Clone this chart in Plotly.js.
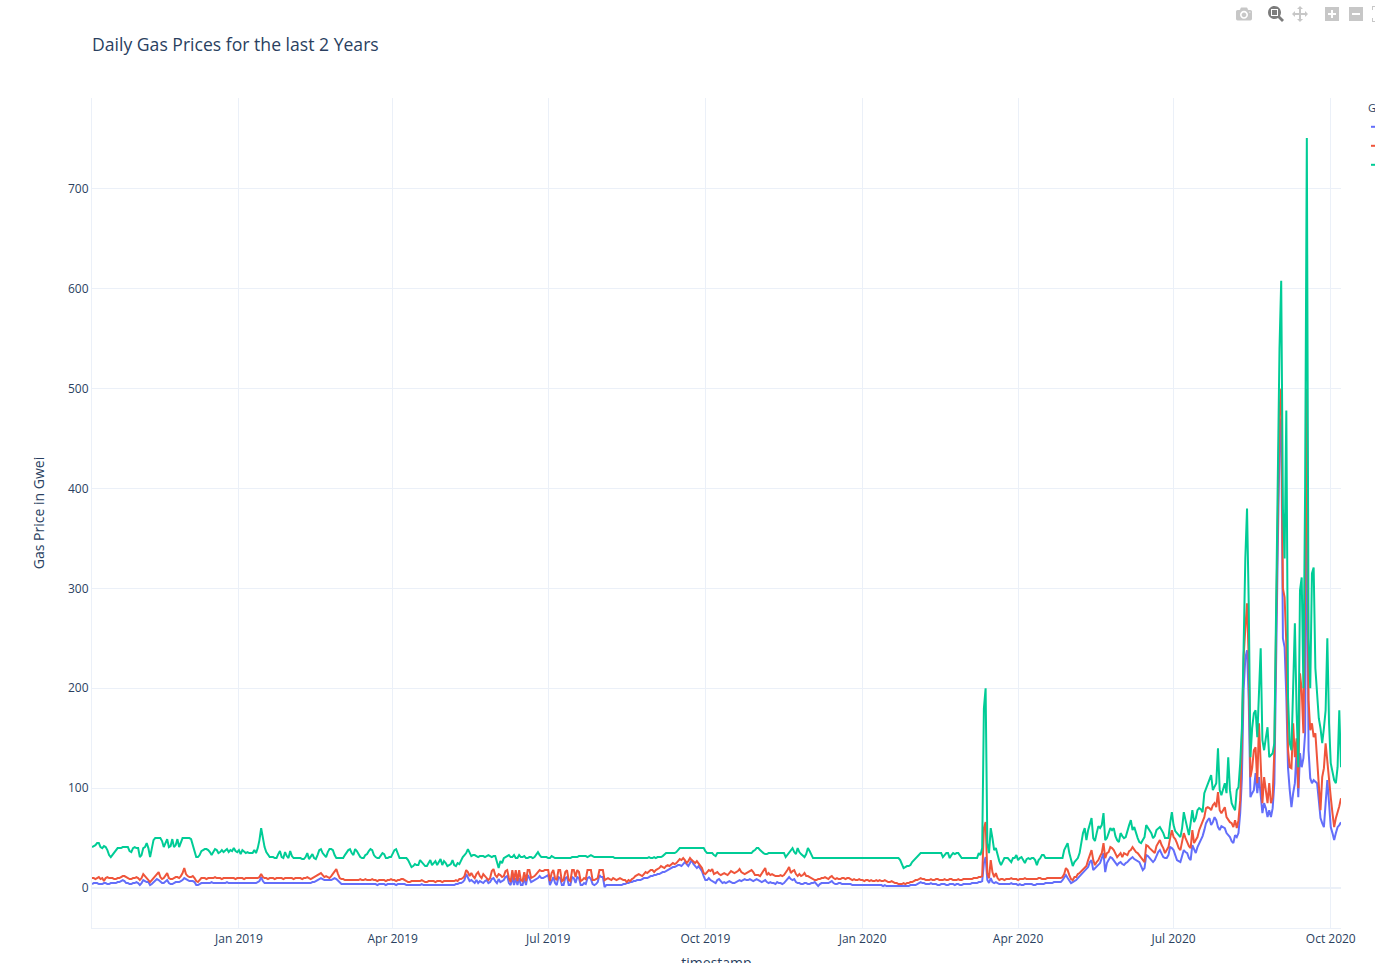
<!DOCTYPE html>
<html>
<head>
<meta charset="utf-8">
<script src="https://cdn.plot.ly/plotly-3.0.1.min.js"></script>
<style>
html, body { margin: 0; padding: 0; background: #ffffff; overflow: hidden; }
#clip { width: 1375px; height: 963px; overflow: hidden; position: relative; background: #ffffff; }
#chart { width: 1450px; height: 1000px; }
</style>
</head>
<body>
<div id="clip"><div id="chart"></div></div>
<script>
// ---- data (daily values, first day 2018-10-07) ----
const startDate = '2018-10-07';
const endDate = '2020-10-07';
const chartTitle = 'Daily Gas Prices for the last 2 Years';
const xTitle = 'timestamp';
const yTitle = 'Gas Price in Gwei';
const legendTitle = 'Gas Price Type';
const seriesNames = ['safeLow', 'average', 'fast'];

const safeLowPrices = [
4,5,5,5,4,4,4,5,5,4,
4,5,5,5,5,6,6,7,8,7,
5,5,4,4,5,5,6,5,3,5,
8,7,6,6,3,4,6,7,9,8,
6,5,5,7,8,5,4,4,5,6,
6,6,7,8,10,9,8,7,7,7,
6,3,3,4,5,5,5,5,5,5,
6,5,5,5,5,5,5,5,5,6,
5,5,5,5,5,5,5,5,5,5,
5,5,5,5,5,5,5,6,7,11,
7,5,5,5,5,5,5,5,5,5,
5,5,5,5,5,5,5,5,5,5,
5,5,5,5,5,5,5,5,5,6,
6,7,8,9,10,9,8,8,8,8,
8,9,10,9,7,5,4,4,4,4,
4,4,4,4,4,4,4,4,4,4,
4,4,4,4,4,4,4,3,4,4,
4,4,3,4,4,4,4,4,3,4,
4,4,4,4,3,3,3,3,3,3,
3,3,3,4,3,3,3,3,3,3,
3,3,3,3,3,3,3,3,3,3,
3,3,3,4,4,5,5,6,8,14,
10,7,8,6,5,8,5,7,6,5,
7,8,5,6,9,10,7,5,9,6,
7,8,11,12,5,3,11,3,10,3,
10,3,3,10,3,13,10,6,7,8,
9,10,12,10,10,11,12,13,3,8,
11,5,3,11,10,3,3,10,11,3,
3,11,10,5,11,10,3,3,5,4,
10,11,9,4,3,4,6,13,11,11,
1,3,3,3,3,3,3,3,3,3,
3,4,4,5,5,6,6,7,7,8,
8,8,9,10,10,10,11,12,12,13,
13,14,14,15,16,16,17,18,19,20,
21,21,22,23,23,22,24,26,24,22,
25,28,24,22,20,22,20,17,12,8,
8,10,8,7,6,5,8,9,7,5,
6,5,6,7,6,5,5,6,7,8,
7,8,9,8,8,9,8,7,8,9,
8,7,6,7,8,6,5,6,5,5,
4,6,5,5,4,5,7,10,11,9,
8,9,6,5,5,4,4,5,5,4,
4,5,5,6,4,2,4,5,5,5,
5,5,6,7,5,4,4,5,5,4,
4,4,4,4,4,3,3,3,3,3,
3,3,3,3,3,3,3,3,3,3,
3,3,3,2,3,2,2,2,2,2,
2,2,2,2,2,2,2,2,2,3,
3,3,3,4,5,6,5,5,4,4,
4,5,4,4,4,3,3,4,4,4,
3,3,4,4,4,3,4,4,3,3,
4,4,4,4,4,5,5,5,5,6,
6,7,25,31,8,5,10,6,5,6,
5,4,4,4,4,4,4,4,5,4,
4,4,3,4,3,3,4,4,4,4,
4,3,3,4,4,4,4,4,5,5,
5,5,5,6,6,6,6,6,8,10,
13,10,7,5,6,7,8,10,12,14,
15,17,19,21,26,28,18,20,22,24,
25,30,35,16,25,28,31,30,28,25,
23,25,26,24,23,25,26,28,30,31,
29,28,27,26,22,18,20,33,32,30,
28,26,28,33,36,38,34,31,30,30,
33,41,40,38,33,28,27,26,32,38,
36,35,30,28,43,38,35,41,45,48,
52,58,65,68,70,63,66,71,68,61,
58,62,61,60,55,53,51,47,45,53,
51,55,75,110,198,230,238,188,91,95,
98,115,95,111,90,75,85,80,71,78,
71,80,105,238,340,440,470,250,241,191,
120,98,81,95,105,138,91,135,121,130,
155,420,138,110,105,108,106,105,88,70,
65,61,85,108,85,61,55,48,55,61,
63,66
];

const averagePrices = [
10,10,9,10,11,9,10,7,10,11,
10,10,10,9,9,10,10,11,12,12,
11,10,9,9,10,10,11,10,8,10,
14,12,10,9,6,8,10,12,14,16,
11,9,10,13,15,10,9,9,10,11,
11,10,12,15,20,14,12,11,11,12,
10,7,6,8,10,10,10,9,10,10,
10,10,11,10,10,10,9,10,10,10,
10,10,10,10,9,10,10,10,10,9,
10,10,10,10,10,10,10,10,11,14,
11,10,10,9,10,10,10,9,10,10,
10,10,9,10,10,10,10,10,9,10,
10,10,10,9,10,10,11,10,9,10,
11,12,13,14,15,13,11,12,11,10,
12,14,16,19,14,10,9,9,8,8,
8,8,8,8,8,8,8,9,8,8,
9,8,8,8,9,8,8,7,8,8,
8,8,7,8,8,9,8,8,7,8,
8,9,9,8,7,6,6,7,7,7,
7,7,7,8,7,6,6,7,7,7,
7,6,7,7,7,6,7,7,7,7,
7,7,7,8,7,9,9,10,12,18,
16,12,15,12,10,14,16,12,10,14,
12,10,8,10,17,19,13,11,14,13,
11,12,17,18,10,6,18,8,18,7,
18,8,7,16,7,18,18,10,11,12,
14,16,18,17,17,18,18,18,7,15,
18,10,8,18,18,7,8,16,18,8,
7,18,18,11,18,16,7,8,10,9,
18,18,18,8,8,9,10,18,18,18,
8,9,10,9,8,10,9,8,9,10,
9,8,8,6,8,7,9,10,12,13,
14,13,12,14,16,15,17,18,18,16,
18,19,20,22,21,20,22,23,22,24,
25,24,25,27,29,28,30,28,25,27,
30,28,26,25,27,25,22,20,15,14,
16,18,17,19,14,15,16,14,13,14,
15,14,13,15,17,16,15,16,17,19,
16,15,14,15,16,17,18,16,13,13,
13,12,15,18,20,13,15,13,14,13,
12,12,12,13,12,13,15,18,21,15,
17,18,14,12,14,12,13,15,12,12,
11,10,9,8,8,9,9,10,10,11,
10,9,11,12,10,9,10,9,9,10,
10,9,10,10,9,8,9,8,8,9,
8,8,7,8,8,7,8,7,7,8,
7,8,7,7,8,7,6,6,7,6,
5,5,4,4,4,5,4,5,5,6,
6,7,8,8,9,10,9,9,8,8,
8,9,8,8,9,9,8,8,8,9,
8,8,9,9,8,8,8,9,8,8,
9,9,9,9,9,9,10,10,10,11,
11,12,60,66,15,10,28,16,11,15,
10,8,9,9,8,9,9,9,10,9,
9,9,8,9,9,9,10,9,9,9,
9,9,9,9,10,10,9,9,9,10,
10,10,10,10,10,10,10,10,11,14,
20,18,13,9,8,11,11,14,15,17,
18,21,22,28,33,38,28,23,26,28,
32,35,45,30,35,36,41,40,38,34,
31,33,35,31,35,34,33,37,38,41,
38,36,35,33,31,28,26,43,42,40,
38,36,35,42,45,48,43,40,35,38,
41,50,58,51,49,45,40,38,45,55,
50,45,42,40,58,45,48,51,58,63,
66,71,80,81,80,78,83,85,81,96,
78,75,78,81,71,68,66,65,61,68,
60,68,88,150,231,260,285,228,111,120,
138,141,105,165,115,85,111,95,85,105,
85,91,138,260,380,480,500,300,291,245,
138,121,120,165,131,150,100,215,198,155,
300,500,188,158,165,151,155,125,100,78,
111,120,145,125,108,91,75,61,70,75,
82,90
];

const fastPrices = [
41,42,43,45,45,41,40,42,41,38,
33,31,33,35,38,40,40,40,41,41,
41,41,37,36,40,41,40,40,31,33,
40,41,45,40,31,40,48,50,50,50,
50,47,41,45,49,41,42,49,41,43,
49,41,46,50,50,50,50,50,49,43,
37,31,31,33,37,38,39,39,38,36,
33,36,39,38,35,36,38,36,38,39,
36,38,37,40,37,36,38,34,38,36,
35,36,35,35,35,38,35,40,48,60,
50,41,36,33,31,31,31,30,30,34,
37,31,30,36,32,30,37,32,30,30,
30,30,30,29,29,31,35,29,32,34,
30,29,33,38,39,35,33,31,36,39,
39,38,33,30,30,30,30,30,33,36,
38,39,35,33,39,37,34,31,30,30,
33,34,37,39,38,33,31,30,30,33,
35,34,30,30,31,31,34,38,39,34,
30,30,30,30,30,28,24,21,22,24,
23,23,28,26,23,22,22,25,28,23,
25,27,23,26,29,23,27,25,22,23,
24,28,23,22,25,24,28,31,33,35,
39,35,32,33,33,32,31,32,32,32,
31,32,33,32,31,32,32,26,20,27,
25,30,31,32,33,31,31,33,30,30,
33,31,31,32,30,30,31,31,30,31,
33,36,33,31,31,31,31,30,30,32,
31,30,30,30,30,30,30,30,30,30,
30,31,31,31,31,32,32,32,32,32,
31,32,33,32,31,31,31,31,31,31,
31,31,31,31,31,31,30,30,30,30,
30,30,30,30,30,30,30,30,30,30,
30,30,30,30,30,30,31,30,30,31,
30,31,31,31,32,34,35,35,35,35,
35,35,36,38,40,40,40,40,40,40,
40,40,40,40,40,40,40,40,40,37,
35,35,35,35,33,32,35,35,35,35,
35,35,35,35,35,35,35,35,35,35,
35,35,35,35,35,35,35,37,38,40,
40,38,36,35,34,34,35,35,35,35,
35,35,35,35,35,35,31,33,35,38,
40,36,34,40,36,34,32,31,34,40,
37,34,30,30,30,30,30,30,30,30,
30,30,30,30,30,30,30,30,30,30,
30,30,30,30,30,30,30,30,30,30,
30,30,30,30,30,30,30,30,30,30,
30,30,30,30,30,30,30,30,30,30,
30,30,30,28,24,20,21,22,22,23,
26,28,30,32,34,35,35,35,35,35,
35,35,35,35,35,35,35,35,31,33,
35,35,30,33,35,34,35,35,33,30,
30,30,30,30,30,30,30,30,30,35,
33,40,180,200,45,35,60,50,38,40,
33,27,23,27,30,30,30,28,26,30,
30,33,28,30,31,28,25,29,30,29,
30,30,28,23,28,30,33,33,30,30,
30,30,30,30,30,30,30,30,30,38,
42,45,35,27,22,26,28,30,35,45,
55,60,48,58,65,70,50,47,55,62,
60,63,75,48,50,55,60,58,60,52,
48,46,55,52,50,51,58,63,68,58,
61,55,50,46,45,48,51,63,60,58,
55,50,52,58,60,61,58,55,50,50,
50,65,76,63,57,55,53,51,60,76,
68,60,53,65,78,66,70,78,80,79,
76,95,100,104,108,113,98,101,105,140,
98,93,100,105,95,131,98,85,81,78,
98,101,125,160,240,330,380,285,131,160,
175,178,151,190,240,148,138,150,161,131,
133,135,145,288,420,540,608,380,330,478,
191,145,138,200,265,178,121,298,311,200,
400,751,250,200,315,321,220,195,170,160,
145,160,178,250,165,125,115,108,105,121,
178,121
];

// ---- build ----
function dailyDates(start, n) {
  const p = start.split('-').map(Number);
  const t0 = Date.UTC(p[0], p[1] - 1, p[2]);
  const out = [];
  for (let i = 0; i < n; i++) {
    out.push(new Date(t0 + i * 86400000).toISOString().slice(0, 10));
  }
  return out;
}

const lineColors = ['#636efa', '#EF553B', '#00cc96'];
const allSeries = [safeLowPrices, averagePrices, fastPrices];

const traces = allSeries.map((ys, i) => ({
  type: 'scatter',
  mode: 'lines',
  name: seriesNames[i],
  x: dailyDates(startDate, ys.length),
  y: ys,
  line: { color: lineColors[i], width: 2 }
}));

const W = 1450, H = 1000;
const layout = {
  width: W,
  height: H,
  margin: { l: 92, r: W - 1341, t: 98, b: H - 928, pad: 0, autoexpand: false },
  paper_bgcolor: '#ffffff',
  plot_bgcolor: '#ffffff',
  font: { family: '"Open Sans", verdana, arial, sans-serif', size: 12, color: '#2a3f5f' },
  title: {
    text: chartTitle,
    x: 92 / W, xanchor: 'left', xref: 'container',
    y: 1 - 45 / H, yanchor: 'middle', yref: 'container',
    font: { size: 17.6, color: '#2a3f5f' }
  },
  xaxis: {
    type: 'date',
    range: [startDate, endDate],
    tick0: '2019-01-01',
    dtick: 'M3',
    tickformat: '%b %Y',
    ticks: '',
    showgrid: true,
    gridcolor: '#EBF0F8',
    showline: true,
    linecolor: '#EBF0F8',
    zeroline: false,
    title: { text: xTitle, standoff: 11, font: { size: 14, color: '#2a3f5f' } }
  },
  yaxis: {
    range: [-40, 791],
    tick0: 0,
    dtick: 100,
    ticks: '',
    showgrid: true,
    gridcolor: '#EBF0F8',
    showline: true,
    linecolor: '#EBF0F8',
    zeroline: true,
    zerolinecolor: '#EBF0F8',
    zerolinewidth: 2,
    title: { text: yTitle, standoff: 20, font: { size: 14, color: '#2a3f5f' } }
  },
  legend: { title: { text: legendTitle, font: { size: 11 } }, font: { size: 11 }, tracegroupgap: 0 },
  hovermode: 'closest',
  showlegend: true
};

Plotly.newPlot('chart', traces, layout, { displayModeBar: true, responsive: false });
</script>
</body>
</html>
